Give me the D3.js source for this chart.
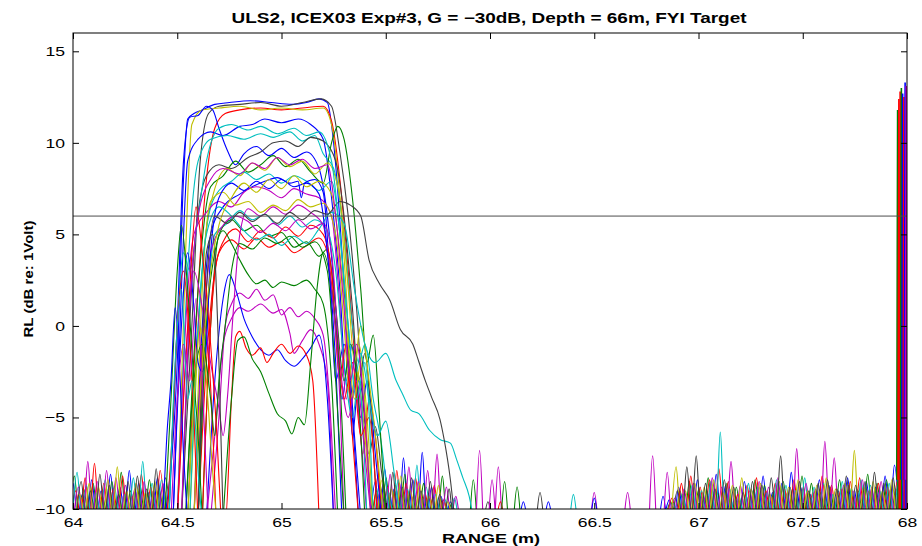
<!DOCTYPE html>
<html>
<head>
<meta charset="utf-8">
<script src="https://cdn.jsdelivr.net/npm/d3@7"></script>
<style>
  body { margin: 0; background: #fff; }
  text { font-family: "Liberation Sans", Arial, sans-serif; fill: #000; }
</style>
</head>
<body>
<svg id="chart" width="922" height="546"></svg>
<script>
// Axis ticks
const xTicks = [64, 64.5, 65, 65.5, 66, 66.5, 67, 67.5, 68];
const xTickLabels = ["64", "64.5", "65", "65.5", "66", "66.5", "67", "67.5", "68"];
const yTicks = [-10, -5, 0, 5, 10, 15];
const yTickLabels = ["\u221210", "\u22125", "0", "5", "10", "15"];
const thresholdLevel = 6;

// MATLAB default line colours
const palette = { b: "#0000ff", g: "#008000", r: "#ff0000", c: "#00bfbf", m: "#bf00bf", y: "#bfbf00", k: "#404040" };

// Echo traces, [range, level] pairs
const echoColors = ["b", "k", "r", "y", "b", "b", "c", "k", "g", "y", "c", "b", "m", "y", "c", "g", "r", "m",
  "r", "c", "g", "m", "m", "b", "r", "g", "m", "b", "k", "g", "k", "c", "r", "y", "m", "g",
  "b", "r", "c", "m", "y"];
const echoPoints = [
  [[64.44,-10.5],[64.5,-2],[64.53,8],[64.55,11.3],[64.58,11.6],[64.62,11.8],[64.68,12.1],[64.75,12.2],[64.85,12.3],[64.95,12.2],[65.05,12.1],[65.12,12.2],[65.18,12.4],[65.22,12.2],[65.25,10],[65.29,4],[65.32,-2],[65.34,-6],[65.37,-3],[65.4,-5],[65.43,-10.5]],
  [[64.52,-10.5],[64.57,0],[64.61,9],[64.65,11.6],[64.7,12],[64.8,12.1],[64.9,12.2],[65,12],[65.1,12.2],[65.19,12.4],[65.24,12],[65.28,9.5],[65.32,6],[65.36,1],[65.39,-4],[65.42,-7],[65.45,-5.5],[65.48,-8],[65.51,-10.5]],
  [[64.55,-10.5],[64.6,2],[64.64,8],[64.68,10.8],[64.73,11.6],[64.8,11.8],[64.9,11.9],[65,11.8],[65.1,11.9],[65.2,12],[65.24,11.2],[65.28,8],[65.32,3],[65.36,-3],[65.39,-7],[65.42,-4],[65.45,-6],[65.48,-10.5]],
  [[64.5,-10.5],[64.54,4],[64.57,11],[64.62,11.8],[64.7,11.9],[64.8,12],[64.9,11.8],[65,11.9],[65.1,11.8],[65.2,11.9],[65.24,11],[65.28,7],[65.31,2],[65.34,-4],[65.37,-1],[65.4,-3.5],[65.44,-10.5]],
  [[64.46,-10.5],[64.5,0],[64.53,9],[64.56,11.4],[64.6,11.5],[64.64,12],[64.67,11.8],[64.7,10.8],[64.74,9.6],[64.78,8.8],[64.82,9.4],[64.88,9.8],[64.94,9.3],[65,9.7],[65.06,9.2],[65.12,9.5],[65.18,8.6],[65.22,6],[65.26,1],[65.29,-4],[65.32,-2],[65.35,-6],[65.38,-10.5]],
  [[64.48,-10.5],[64.52,2],[64.55,9],[64.6,10.2],[64.66,10.6],[64.72,10.4],[64.8,10.9],[64.86,11],[64.92,11.3],[65,11.1],[65.08,11.3],[65.14,11],[65.2,10.2],[65.24,7],[65.28,2],[65.31,-3],[65.34,-1],[65.38,-5],[65.41,-3],[65.45,-7],[65.48,-10.5]],
  [[64.5,-10.5],[64.55,3],[64.6,9],[64.66,10.2],[64.74,10.4],[64.82,10.2],[64.9,10.5],[64.96,10.3],[65.04,10.6],[65.1,10.1],[65.16,10.4],[65.2,9.4],[65.25,8.6],[65.3,5],[65.34,0],[65.37,-2],[65.4,-1],[65.44,-4],[65.48,-6.5],[65.52,-10.5]],
  [[64.52,-10.5],[64.58,4],[64.64,8.2],[64.7,8.8],[64.76,8.6],[64.84,9.2],[64.9,9.5],[64.96,10],[65.02,10.1],[65.08,9.8],[65.14,10.3],[65.2,10.1],[65.26,9],[65.3,6],[65.34,1],[65.37,-3],[65.4,-1.5],[65.43,-5],[65.46,-10.5]],
  [[64.54,-10.5],[64.6,2],[64.66,7.6],[64.72,8.2],[64.78,9],[64.84,8.4],[64.9,8.8],[64.96,9.3],[65.02,8.7],[65.08,9.1],[65.14,8.4],[65.2,7.8],[65.24,10],[65.27,10.9],[65.3,10.2],[65.34,7],[65.38,2],[65.41,-2],[65.44,-0.5],[65.47,-5],[65.5,-10.5]],
  [[64.56,-10.5],[64.62,3],[64.68,7.5],[64.74,8.6],[64.8,8.2],[64.86,8.9],[64.92,8.5],[64.98,9.2],[65.04,8.7],[65.1,9],[65.16,8.3],[65.22,8.9],[65.28,7],[65.32,2],[65.35,-2],[65.38,0],[65.42,-3],[65.46,-7],[65.49,-10.5]],
  [[64.55,-10.5],[64.6,0],[64.65,6],[64.7,7.4],[64.76,7.9],[64.82,8.4],[64.88,8],[64.94,8.3],[65,7.8],[65.06,8.2],[65.12,7.9],[65.18,7.4],[65.24,7.9],[65.28,5],[65.32,0],[65.35,-3],[65.38,-1.5],[65.42,-4],[65.46,-6],[65.5,-5.2],[65.54,-8],[65.57,-10.5]],
  [[64.58,-10.5],[64.62,0],[64.66,5],[64.72,6.5],[64.8,7.2],[64.86,7.6],[64.92,7.9],[64.98,8.1],[65.04,7.8],[65.08,7.9],[65.095,7],[65.11,7.8],[65.16,8],[65.2,7.3],[65.23,3],[65.26,-3],[65.3,-1],[65.34,-5],[65.37,-10.5]],
  [[64.5,-10.5],[64.54,0],[64.58,5],[64.64,6.2],[64.7,6.8],[64.76,6.5],[64.82,7.3],[64.88,7.6],[64.94,7.4],[65,7],[65.06,7.5],[65.12,7.2],[65.18,7],[65.24,6],[65.28,1],[65.31,-4],[65.34,-2],[65.38,-6],[65.41,-10.5]],
  [[64.58,-10.5],[64.62,2],[64.66,6.8],[64.72,7.3],[64.78,6.6],[64.84,6.8],[64.9,6.2],[64.96,6.6],[65.02,6.3],[65.08,6.9],[65.14,6.5],[65.2,6.7],[65.26,5],[65.3,0],[65.33,-4],[65.36,-2.5],[65.4,-6],[65.43,-10.5]],
  [[64.6,-10.5],[64.64,0],[64.68,5],[64.74,5.6],[64.8,6.3],[64.86,5.8],[64.92,6.1],[64.98,5.5],[65.04,6],[65.1,5.4],[65.16,5.8],[65.22,5.2],[65.26,3],[65.3,-2],[65.34,-5],[65.37,-3],[65.41,-10.5]],
  [[64.62,-10.5],[64.66,0],[64.7,5],[64.76,5.8],[64.82,5.2],[64.88,5.5],[64.94,4.9],[65,5.1],[65.06,4.3],[65.12,4.6],[65.18,3.8],[65.22,4.2],[65.26,1],[65.3,-3],[65.33,-1],[65.37,-4],[65.4,-10.5]],
  [[64.6,-10.5],[64.64,-2],[64.68,3],[64.72,4.6],[64.78,5.3],[64.84,4.6],[64.9,5.2],[64.96,4.8],[65.02,5.4],[65.08,4.9],[65.14,5.5],[65.2,5],[65.24,3],[65.28,-3],[65.31,-1],[65.34,-6],[65.37,-10.5]],
  [[64.58,-10.5],[64.62,-1],[64.66,4],[64.72,5.5],[64.78,6],[64.84,5.7],[64.9,5.1],[64.96,5.6],[65.02,5.2],[65.08,5.8],[65.14,5.3],[65.2,5.6],[65.24,4],[65.28,-2],[65.32,-5],[65.36,-3],[65.4,-7],[65.43,-10.5]],
  [[64.62,-10.5],[64.66,0],[64.7,4],[64.76,4.7],[64.82,4.2],[64.88,4.8],[64.94,4.3],[65,4.6],[65.06,4],[65.12,4.4],[65.18,4.8],[65.22,4],[65.26,0],[65.3,-4],[65.34,-2],[65.38,-6],[65.42,-5],[65.46,-10.5]],
  [[64.56,-10.5],[64.6,0],[64.64,5],[64.7,6.5],[64.76,6],[64.82,5.2],[64.88,4.7],[64.94,5],[65,4.4],[65.06,4.9],[65.12,4.5],[65.18,5.3],[65.24,6.2],[65.3,5.6],[65.35,2],[65.4,-1],[65.45,-2],[65.5,-1.5],[65.55,-3],[65.58,-3.7],[65.62,-4.6],[65.66,-4.8],[65.71,-5.7],[65.76,-6.2],[65.81,-6.4],[65.84,-7.3],[65.87,-8.3],[65.9,-9.3],[65.92,-10.5]],
  [[64.6,-10.5],[64.64,0],[64.68,4],[64.72,5.2],[64.76,4.5],[64.8,3.6],[64.84,2.8],[64.88,2.3],[64.92,2.5],[64.96,2.1],[65,2.4],[65.06,2.2],[65.12,2.5],[65.16,2],[65.2,1.2],[65.24,-3],[65.27,-10.5]],
  [[64.66,-10.5],[64.7,-5],[64.73,0],[64.76,1.2],[64.8,1.8],[64.84,1.5],[64.88,2],[64.92,1.4],[64.96,1.7],[65,0.6],[65.04,1],[65.08,0.5],[65.12,0.8],[65.16,0.4],[65.2,-0.5],[65.23,-4],[65.26,-10.5]],
  [[64.64,-10.5],[64.68,-6],[64.72,-1],[64.76,0.4],[64.8,1],[64.84,0.8],[64.9,1.2],[64.96,0.7],[65,0.9],[65.04,-0.4],[65.06,-1.5],[65.1,-0.8],[65.14,-0.2],[65.18,-1],[65.22,-3],[65.25,-10.5]],
  [[64.64,-10.5],[64.68,-3],[64.72,1.5],[64.75,2.8],[64.78,2],[64.82,0.4],[64.86,-0.6],[64.9,-1.3],[64.94,-1.6],[64.98,-1.3],[65.02,-1.9],[65.06,-2.2],[65.1,-1.8],[65.14,-1.2],[65.18,-0.5],[65.22,-4],[65.25,-10.5]],
  [[64.6,-10.5],[64.63,0],[64.655,-2.3],[64.675,-7],[64.69,-10.8],[64.73,-10.8],[64.76,-4],[64.78,-0.6],[64.8,-0.3],[64.83,-1.2],[64.86,-1.6],[64.9,-1.2],[64.93,-2],[64.96,-1.5],[65,-1],[65.04,-1.5],[65.08,-1.1],[65.12,-1.6],[65.15,-3],[65.18,-10.5]],
  [[64.72,-10.5],[64.76,-4],[64.79,-0.8],[64.82,-0.6],[64.86,-1.8],[64.9,-2.5],[64.94,-3.7],[64.98,-4.8],[65.02,-5.2],[65.05,-5.9],[65.08,-5],[65.11,-5.4],[65.14,-2],[65.17,2],[65.2,4],[65.24,2],[65.28,-3],[65.31,-10.5]],
  [[64.5,-10.5],[64.54,-2],[64.58,3],[64.62,1],[64.66,-2],[64.7,-4.5],[64.72,-6],[64.74,-4],[64.77,1],[64.8,5],[64.84,6.4],[64.9,6],[64.96,6.5],[65.02,6.1],[65.08,6.6],[65.14,6.2],[65.2,5.5],[65.24,2],[65.28,-4],[65.3,-10.5]],
  [[64.48,-10.5],[64.52,0],[64.55,4],[64.58,1],[64.6,-2],[64.62,-2.5],[64.64,-1],[64.66,4],[64.7,7],[64.76,7.8],[64.82,7.4],[64.88,7.9],[64.94,7.5],[65,8],[65.06,7.6],[65.12,7.8],[65.18,7.2],[65.22,4],[65.26,-2],[65.29,-10.5]],
  [[64.6,-10.5],[64.64,4],[64.67,5],[64.7,-2],[64.72,-10.5]],
  [[64.54,-10.5],[64.58,-3],[64.62,-1],[64.66,-4],[64.68,-6],[64.7,-3],[64.73,0],[64.76,3],[64.8,4.5],[64.86,4.2],[64.92,4.8],[64.98,4.5],[65.04,4.9],[65.1,4.3],[65.16,4.6],[65.22,3],[65.26,-3],[65.3,-10.5]],
  [[64.6,-10.5],[64.64,2],[64.68,6],[64.74,5.6],[64.8,6.2],[64.86,5.7],[64.92,6.1],[64.98,5.6],[65.04,6.2],[65.1,5.8],[65.16,6.3],[65.22,6.1],[65.28,6.8],[65.33,6.6],[65.38,6],[65.42,3.6],[65.47,2.3],[65.52,1.4],[65.57,-0.2],[65.63,-1],[65.66,-2],[65.69,-3],[65.72,-3.9],[65.76,-5.1],[65.78,-6.2],[65.81,-8.4],[65.83,-10.5]],
  [[64.46,-10.5],[64.5,0],[64.53,4],[64.56,3],[64.6,6],[64.64,9],[64.7,10.8],[64.76,11],[64.84,10.7],[64.9,10.9],[64.98,10.5],[65.06,10.8],[65.12,10.4],[65.18,10.6],[65.24,9],[65.28,5],[65.32,0],[65.36,-4],[65.4,-2],[65.44,-10.5]],
  [[64.5,-10.5],[64.53,-4],[64.56,2],[64.59,6.5],[64.62,4],[64.66,-1],[64.69,-6],[64.71,-10.5]],
  [[64.58,-10.5],[64.62,-2],[64.66,3],[64.7,5.5],[64.76,7],[64.82,7.8],[64.88,7.3],[64.94,8],[65,7.5],[65.06,8.2],[65.12,7.6],[65.18,7.9],[65.24,7.2],[65.28,4],[65.32,-1],[65.35,-4],[65.38,-2],[65.42,-8],[65.44,-10.5]],
  [[64.52,-10.5],[64.56,1],[64.6,6],[64.66,8],[64.72,8.6],[64.8,8.3],[64.86,8.9],[64.92,8.6],[64.98,9.2],[65.04,8.8],[65.1,9.1],[65.16,8.6],[65.22,8.8],[65.26,6],[65.3,1],[65.33,-3],[65.36,-1],[65.4,-5],[65.43,-10.5]],
  [[64.44,-10.5],[64.47,-4],[64.5,3],[64.52,5.5],[64.55,2],[64.58,-3],[64.6,-6],[64.62,-10.5]],
  [[64.43,-10.5],[64.45,-6],[64.47,-3],[64.49,1],[64.51,-2],[64.53,-7],[64.55,-10.8]],
  [[64.45,-10.5],[64.48,-5],[64.5,0],[64.53,3],[64.56,-1],[64.58,-5],[64.6,-10.8]],
  [[64.46,-10.5],[64.49,-2],[64.52,2],[64.55,-4],[64.57,-3],[64.6,-8],[64.62,-10.8]],
  [[64.47,-10.5],[64.5,-4],[64.53,-1],[64.56,-3],[64.59,1.5],[64.62,-3],[64.65,-10.8]],
  [[64.55,-10.5],[64.58,-4],[64.61,0],[64.64,-3],[64.67,-8],[64.69,-10.8]]
];

// Noise floor: peak levels on a regular range grid, one list per colour
const floorColors = ["b", "g", "r", "c", "m", "y", "k"];
const floorStep = 0.045;
const floorLeftStart = 64.0;
const floorLeft = [
  [-8.6,-9.2,-8.4,-9.0,-8.1,-8.8,-7.9,-8.6,-9.1,-8.3],
  [-8.2,-8.9,-8.6,-9.3,-8.5,-8.0,-9.0,-8.7,-8.4,-8.9],
  [-9.0,-8.3,-7.5,-8.6,-8.9,-8.2,-9.3,-8.1,-8.8,-7.9],
  [-8.0,-8.7,-9.1,-8.4,-8.8,-9.2,-8.3,-7.4,-8.6,-8.4],
  [-8.8,-7.4,-8.5,-7.9,-8.3,-8.7,-8.9,-8.5,-9.0,-8.6],
  [-9.2,-8.6,-8.8,-8.4,-7.7,-9.0,-8.6,-9.1,-8.5,-9.0],
  [-8.5,-9.0,-8.1,-8.7,-9.2,-8.5,-8.2,-8.9,-7.8,-8.3]
];
const floorMidStart = 65.45;
const floorMid = [
  [-8.5,-7.8,-8.9,-7.2,-8.4,-6.9,-8.8,-9.3,-9.6,-10.5],
  [-9.0,-8.3,-8.7,-8.1,-9.2,-8.6,-9.4,-8.2,-9.7,-10.5],
  [-8.2,-8.8,-7.9,-8.6,-8.3,-9.1,-8.7,-9.5,-10.5,-10.5],
  [-8.7,-9.1,-8.4,-8.9,-7.6,-8.8,-9.2,-9.5,-9.4,-10.5],
  [-8.9,-8.1,-8.6,-7.7,-8.5,-7.9,-7.0,-8.8,-9.3,-10.5],
  [-8.4,-8.9,-8.2,-9.0,-8.6,-9.3,-8.7,-9.6,-10.5,-10.5],
  [-8.6,-8.0,-8.8,-8.3,-9.0,-8.5,-9.2,-8.9,-10.5,-10.5]
];
const floorRightStart = 66.86;
const floorRight = [
  [-9.5,-8.8,-9.2,-8.4,-9.0,-8.1,-8.7,-9.3,-8.5,-8.9,-8.2,-9.1,-8.6,-8.0,-8.8,-9.2,-8.4,-8.7,-9.0,-8.3,-8.9,-8.5,-8.8,-8.2,-7.6],
  [-9.6,-9.0,-8.5,-8.9,-8.3,-9.1,-8.6,-8.8,-9.2,-8.4,-8.7,-9.0,-8.5,-8.9,-8.2,-8.6,-9.1,-8.8,-8.4,-8.7,-9.0,-8.1,-8.6,-8.4,-8.9],
  [-9.4,-8.6,-8.2,-8.8,-8.4,-7.8,-8.5,-9.2,-8.7,-8.3,-9.0,-8.6,-8.9,-8.4,-8.8,-9.1,-8.2,-8.7,-8.9,-8.5,-8.3,-9.0,-8.6,-8.8,-8.5],
  [-9.7,-9.2,-8.7,-9.0,-8.5,-5.8,-8.9,-9.3,-8.6,-8.8,-9.1,-8.4,-8.7,-9.0,-8.3,-8.8,-8.6,-9.2,-8.5,-8.9,-8.4,-8.7,-9.0,-8.6,-8.3],
  [-9.4,-8.9,-8.6,-9.1,-8.3,-8.8,-7.4,-8.7,-9.0,-8.5,-8.8,-8.3,-9.1,-6.7,-8.6,-8.9,-6.3,-7.2,-8.7,-9.0,-8.4,-8.8,-8.5,-8.9,-8.2],
  [-7.7,-9.0,-8.6,-8.8,-8.4,-9.1,-8.7,-8.3,-8.9,-8.6,-9.2,-8.5,-8.8,-8.4,-9.0,-8.7,-8.3,-8.9,-8.6,-6.8,-8.8,-8.5,-9.0,-8.4,-8.7],
  [-9.0,-7.7,-7.1,-8.6,-8.9,-8.4,-8.8,-9.1,-8.5,-8.7,-8.3,-7.1,-8.8,-8.5,-9.0,-8.6,-8.4,-8.9,-8.2,-8.7,-8.5,-8.0,-8.6,-8.3,-8.1]
];

// Isolated side-lobe peaks between 65.9 m and 66.9 m
const spotRange = [65.92, 65.95, 65.99, 66.01, 66.04, 66.05, 66.07, 66.13, 66.16, 66.24, 66.28, 66.4, 66.5, 66.5, 66.66, 66.78, 66.83, 66.85];
const spotLevel = [-8.4, -6.8, -9.6, -8.4, -7.7, -9.6, -8.5, -8.8, -9.6, -9.1, -9.6, -9.2, -9.1, -9.4, -9.1, -7.1, -9.3, -8.0];
const spotColor = ["g", "m", "k", "m", "m", "r", "g", "g", "b", "k", "b", "c", "m", "b", "m", "m", "b", "m"];

// Ice-return spike right at 68 m
const spikeRange = [67.955, 67.961, 67.967, 67.973, 67.979, 67.985, 67.991, 67.996];
const spikeTop = [11.8, 12.4, 12.8, 13.0, 12.7, 12.5, 13.3, 13.1];
const spikeColor = ["g", "r", "r", "g", "b", "r", "b", "m"];

// Layout
const width = 922, height = 546;
const margin = { top: 33, right: 15, bottom: 37, left: 73 };

const x = d3.scaleLinear().domain([64, 68]).range([margin.left, width - margin.right]);
const y = d3.scaleLinear().domain([-10, 16]).range([height - margin.bottom, margin.top]);

const svg = d3.select("#chart");

svg.append("defs").append("clipPath").attr("id", "plot-clip")
  .append("rect")
  .attr("x", x(64)).attr("y", y(16))
  .attr("width", x(68) - x(64)).attr("height", y(-10) - y(16));

const plot = svg.append("g").attr("clip-path", "url(#plot-clip)");

const echoLine = d3.line().x(d => x(d[0])).y(d => y(d[1])).curve(d3.curveMonotoneX);
const humpLine = d3.line().x(d => x(d[0])).y(d => y(d[1])).curve(d3.curveCatmullRom.alpha(0.5));
const straight = d3.line().x(d => x(d[0])).y(d => y(d[1]));
const valley = -10.4;

// peaks -> alternating valley / peak points
function humps(start, levels) {
  const pts = [];
  levels.forEach((h, i) => {
    const cx = start + i * floorStep;
    pts.push([cx - floorStep / 2, valley], [cx, h]);
  });
  pts.push([start + (levels.length - 0.5) * floorStep, valley]);
  return pts;
}

function drawFloor(start, series) {
  series.forEach((levels, i) => {
    plot.append("path")
      .attr("d", humpLine(humps(start + i * 0.0065, levels)))
      .attr("fill", "none")
      .attr("stroke", palette[floorColors[i]])
      .attr("stroke-width", 1.1);
  });
}

drawFloor(floorLeftStart, floorLeft);
drawFloor(floorMidStart, floorMid);
drawFloor(floorRightStart, floorRight);

spotRange.forEach((r, i) => {
  plot.append("path")
    .attr("d", humpLine([[r - 0.016, valley], [r, spotLevel[i]], [r + 0.016, valley]]))
    .attr("fill", "none")
    .attr("stroke", palette[spotColor[i]])
    .attr("stroke-width", 1.1);
});

// echo traces
plot.selectAll(".echo")
  .data(echoPoints)
  .enter()
  .append("path")
  .attr("class", "echo")
  .attr("d", d => echoLine(d))
  .attr("fill", "none")
  .attr("stroke", (d, i) => palette[echoColors[i]])
  .attr("stroke-width", 1.1);

// spike at 68 m
spikeRange.forEach((r, i) => {
  plot.append("path")
    .attr("d", straight([[r - 0.004, -8.4], [r, spikeTop[i]], [r + 0.002, -11]]))
    .attr("fill", "none")
    .attr("stroke", palette[spikeColor[i]])
    .attr("stroke-width", 1.6);
});

// threshold line
plot.append("line")
  .attr("x1", x(64)).attr("x2", x(68))
  .attr("y1", y(thresholdLevel)).attr("y2", y(thresholdLevel))
  .attr("stroke", "#4d4d4d")
  .attr("stroke-width", 1);

// Axes (MATLAB style: inward ticks on all four sides)
const tickLen = -6;
const gx = svg.append("g")
  .attr("transform", `translate(0, ${y(-10)})`)
  .call(d3.axisBottom(x).tickValues(xTicks).tickSize(tickLen).tickPadding(9).tickFormat((d, i) => xTickLabels[i]));
const gy = svg.append("g")
  .attr("transform", `translate(${x(64)}, 0)`)
  .call(d3.axisLeft(y).tickValues(yTicks).tickSize(tickLen).tickPadding(8).tickFormat((d, i) => yTickLabels[i]));
svg.append("g")
  .attr("transform", `translate(0, ${y(16)})`)
  .call(d3.axisTop(x).tickValues(xTicks).tickSize(tickLen).tickFormat(""));
svg.append("g")
  .attr("transform", `translate(${x(68)}, 0)`)
  .call(d3.axisRight(y).tickValues(yTicks).tickSize(tickLen).tickFormat(""));

svg.selectAll(".domain").remove();
svg.selectAll(".tick line").attr("stroke", "#000");

[gx, gy].forEach(g => {
  g.selectAll("text")
    .attr("font-size", 13)
    .attr("font-family", "Liberation Sans, Arial, sans-serif")
    .attr("fill", "#000")
    .each(function () {
      const w = this.getComputedTextLength();
      d3.select(this).attr("textLength", w * 1.35).attr("lengthAdjust", "spacingAndGlyphs");
    });
});

svg.append("rect")
  .attr("x", x(64)).attr("y", y(16))
  .attr("width", x(68) - x(64)).attr("height", y(-10) - y(16))
  .attr("fill", "none")
  .attr("stroke", "#000")
  .attr("stroke-width", 1);

// Labels
svg.append("text")
  .attr("x", 489).attr("y", 23)
  .attr("text-anchor", "middle")
  .attr("font-size", 14).attr("font-weight", "bold")
  .attr("textLength", 515).attr("lengthAdjust", "spacingAndGlyphs")
  .text("ULS2, ICEX03 Exp#3, G = \u221230dB, Depth = 66m, FYI Target");

svg.append("text")
  .attr("x", 491).attr("y", 543)
  .attr("text-anchor", "middle")
  .attr("font-size", 13.5).attr("font-weight", "bold")
  .attr("textLength", 98).attr("lengthAdjust", "spacingAndGlyphs")
  .text("RANGE (m)");

svg.append("text")
  .attr("transform", "translate(33, 279) rotate(-90)")
  .attr("text-anchor", "middle")
  .attr("font-size", 12.5).attr("font-weight", "bold")
  .attr("textLength", 117).attr("lengthAdjust", "spacingAndGlyphs")
  .text("RL (dB re: 1Volt)");
</script>
</body>
</html>
